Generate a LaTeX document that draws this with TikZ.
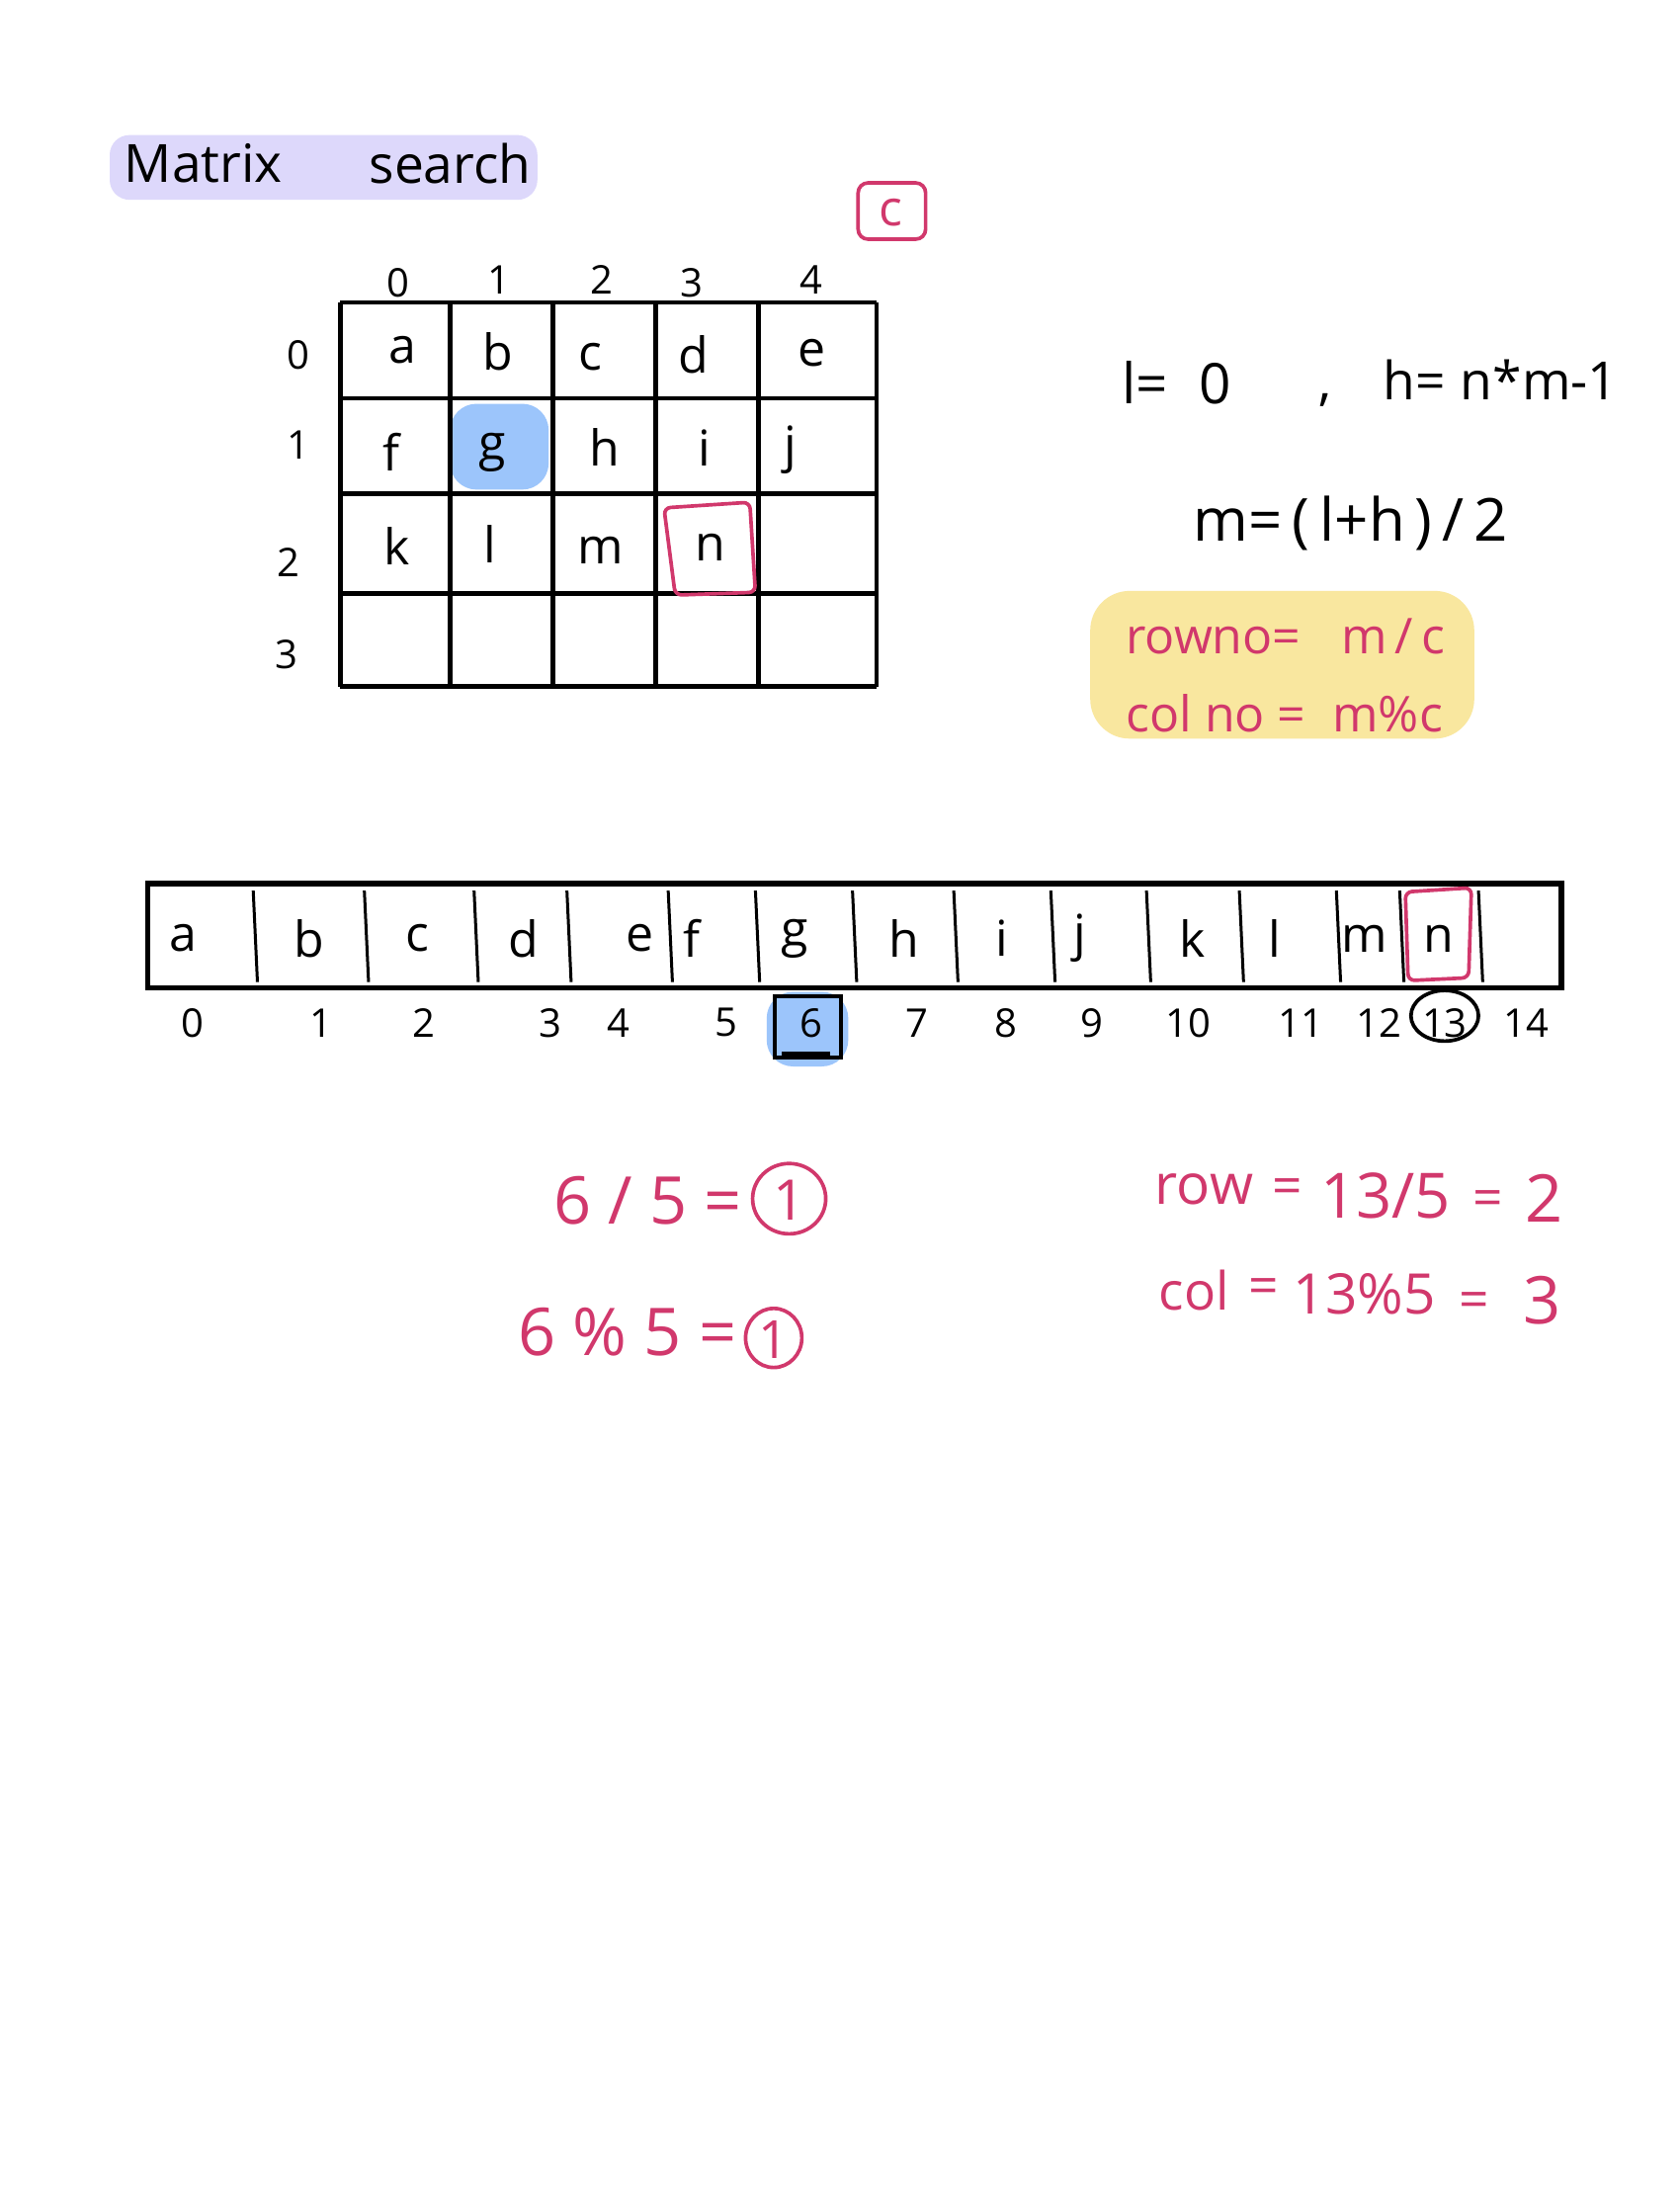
\documentclass[tikz,border=0pt]{standalone}
\usepackage{fontspec}
\setmainfont{Open Sans}
\definecolor{pinkred}{HTML}{D1386C}
\definecolor{hlblue}{HTML}{9CC5FB}
\definecolor{hllav}{HTML}{DDD8FB}
\definecolor{hlyel}{HTML}{F9E79F}
\begin{document}
\begin{tikzpicture}[x=0.4271pt,y=-0.4271pt,
  hand/.style={inner sep=0pt,font=\fontsize{15}{15}\selectfont},
  small/.style={inner sep=0pt,font=\fontsize{12}{12}\selectfont},
  pinktxt/.style={inner sep=0pt,text=pinkred},
  gridline/.style={line width=1.4pt},
  divider/.style={line width=0.9pt},
  pinkline/.style={draw=pinkred,line width=1.1pt}]
\useasboundingbox[fill=white] (0,0) rectangle (1194,1568);

% title highlight
\fill[hllav,rounded corners=6pt] (78,96) rectangle (382,142);
\node[hand,anchor=west,font=\fontsize{16}{16}\selectfont] (title1) at (88,116) {Matrix};
\node[hand,anchor=west,font=\fontsize{16}{16}\selectfont] (title2) at (262,116) {search};

% red c box
\draw[pinkline,rounded corners=3pt] (610,130) rectangle (658,170);
\node[pinktxt,font=\fontsize{15}{15}\selectfont] (cbox) at (633,151) {c};

% blue highlight on g
\fill[hlblue,rounded corners=8pt] (320,287) rectangle (390,348);

% grid
\foreach \x in {242,320,393,466,539,623} \draw[gridline] (\x,215) -- (\x,488);
\foreach \y in {215,283,351,422,488} \draw[gridline] (242,\y) -- (623,\y);

% red box around n
\draw[pinkline,rounded corners=2pt] (472,361) -- (533,357) -- (537,421) -- (480,423) -- cycle;

% column headers
\node[small] (ch0) at (283,201) {0};
\node[small] (ch1) at (355,199) {1};
\node[small] (ch2) at (428,199) {2};
\node[small] (ch3) at (492,201) {3};
\node[small] (ch4) at (577,199) {4};
% row labels
\node[small] (rl0) at (212,252) {0};
\node[small] (rl1) at (212,316) {1};
\node[small] (rl2) at (205,400) {2};
\node[small] (rl3) at (204,465) {3};

% grid letters
\node[hand] (ga) at (286,249) {a};
\node[hand] (gb) at (354,250) {b};
\node[hand] (gc) at (420,254) {c};
\node[hand] (gd) at (493,252) {d};
\node[hand] (ge) at (577,251) {e};
\node[hand] (gf) at (278,321) {f};
\node[hand] (gg) at (350,322) {g};
\node[hand] (gh) at (430,318) {h};
\node[hand] (gi) at (501,318) {i};
\node[hand] (gj) at (562,320) {j};
\node[hand] (gk) at (282,388) {k};
\node[hand] (gl) at (348,387) {l};
\node[hand] (gm) at (427,391) {m};
\node[hand] (gn) at (505,389) {n};

% formulas
\node[hand,anchor=west,font=\fontsize{17}{17}\selectfont] (f1) at (797,272) {l=\;\;0};
\node[hand,anchor=west,font=\fontsize{16}{16}\selectfont] (f2) at (937,272) {,\;\;\, h=\;n*m-1};
\node[hand,anchor=west,font=\fontsize{18}{18}\selectfont] (f3) at (848,372) {m=\,(\,l+h\,)\,/\,2};

% yellow box
\fill[hlyel,rounded corners=12pt] (775,420) rectangle (1048,525);
\node[pinktxt,anchor=west,font=\fontsize{15}{15}\selectfont] (y1) at (800,452) {rowno=\;\; m\,/\,c};
\node[pinktxt,anchor=west,font=\fontsize{15}{15}\selectfont] (y2) at (800,507) {col no =\; m\%c};

% long array
\draw[line width=1.6pt] (105,628) rectangle (1110,702);
\foreach \x in {180,259,337,403,475,537,606,678,747,815,881,950,995,1051}
  \draw[divider] (\x,633) -- (\x+3,698);
\draw[pinkline,rounded corners=2pt] (999,634) -- (1046,631) -- (1044,695) -- (1001,697) -- cycle;

\foreach \t/\x/\nm in {a/130/aa,b/220/ab,c/297/ac,d/372/ad,e/455/ae,f/492/af,g/565/ag,h/643/ah,i/712/ai,j/768/aj,k/848/ak,l/906/al,m/970/am,n/1023/an}
  \node[hand] (\nm) at (\x,667) {\t};

% highlight and box around 6
\fill[hlblue,rounded corners=8pt] (545,705) rectangle (603,758);
\draw[line width=1.2pt] (551,708) rectangle (598,752);
\draw[line width=2.2pt] (556,750) -- (590,750);
% circle around 13
\draw[line width=1.1pt] (1027,722) ellipse [x radius=24, y radius=18];

\foreach \t/\x/\nm in {0/137/i0,1/228/i1,2/301/i2,3/391/i3,4/440/i4,5/516/i5,6/577/i6,7/652/i7,8/715/i8,9/776/i9,10/845/i10,11/925/i11,12/980/i12,13/1027/i13,14/1085/i14}
  \node[small] (\nm) at (\x,727) {\t};

% bottom calculations
\node[pinktxt,anchor=east,font=\fontsize{20}{20}\selectfont] (c1) at (528,853) {6 / 5 =};
\draw[pinkline] (561,852) ellipse [x radius=26, y radius=25];
\node[pinktxt,font=\fontsize{17}{17}\selectfont] (c1r) at (561,853) {1};
\node[pinktxt,anchor=east,font=\fontsize{20}{20}\selectfont] (c2) at (524,947) {6 \% 5 =};
\draw[pinkline] (550,951) ellipse [x radius=20, y radius=21];
\node[pinktxt,font=\fontsize{16}{16}\selectfont] (c2r) at (550,952) {1};

\node[pinktxt,font=\fontsize{17}{17}\selectfont] (r1a) at (856,845) {row};
\node[pinktxt,font=\fontsize{16}{16}\selectfont] (r1b) at (915,847) {=};
\node[pinktxt,font=\fontsize{19}{19}\selectfont] (r1c) at (985,850) {13/5};
\node[pinktxt,font=\fontsize{16}{16}\selectfont] (r1d) at (1058,855) {=};
\node[pinktxt,font=\fontsize{20}{20}\selectfont] (r1e) at (1098,852) {2};

\node[pinktxt,font=\fontsize{16}{16}\selectfont] (r2a) at (849,917) {col};
\node[pinktxt,font=\fontsize{16}{16}\selectfont] (r2b) at (898,918) {=};
\node[pinktxt,font=\fontsize{17}{17}\selectfont] (r2c) at (970,920) {13\%5};
\node[pinktxt,font=\fontsize{16}{16}\selectfont] (r2d) at (1048,928) {=};
\node[pinktxt,font=\fontsize{20}{20}\selectfont] (r2e) at (1096,924) {3};
\end{tikzpicture}
\end{document}
